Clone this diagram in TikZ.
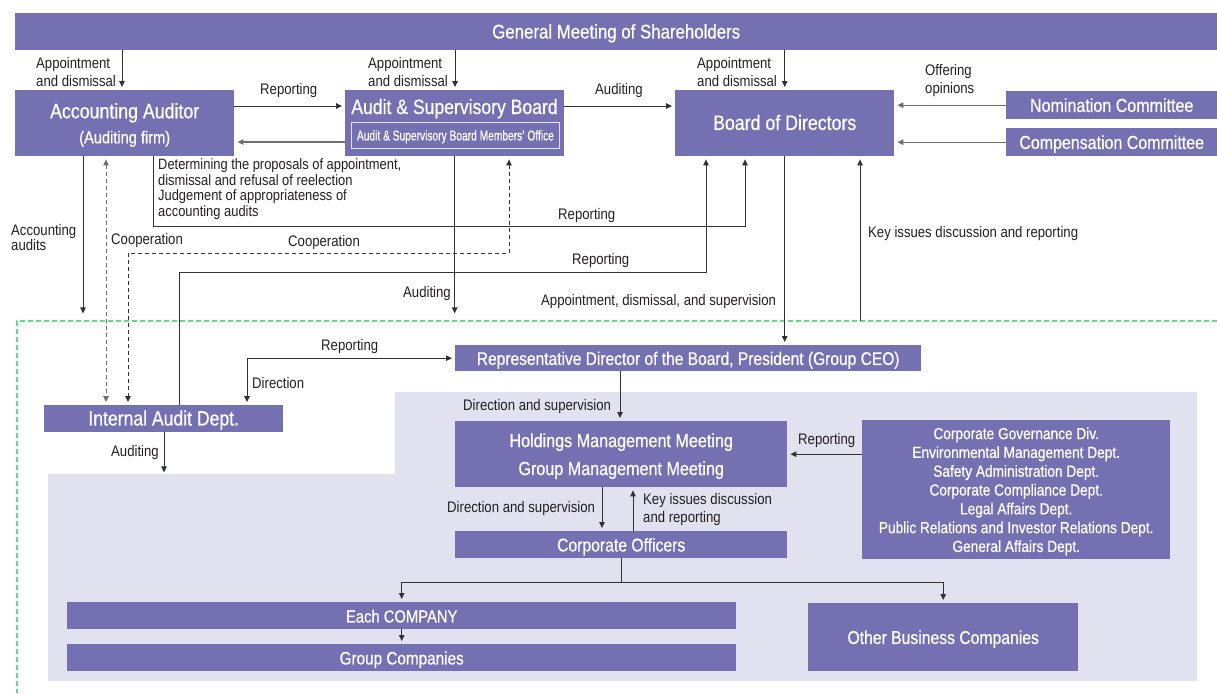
\documentclass[tikz,border=0pt]{standalone}
\usepackage{fontspec}
\setmainfont[FakeStretch=0.86]{Liberation Sans}
\newfontfamily\boxsf[FakeStretch=0.85, FakeBold=0.6]{Liberation Sans}
\newfontfamily\narrowsf[FakeStretch=0.72, FakeBold=0.4]{Liberation Sans}
\usetikzlibrary{arrows.meta}
\definecolor{boxpurple}{RGB}{117,112,178}
\definecolor{bgviolet}{RGB}{226,225,240}
\definecolor{greendash}{RGB}{105,215,138}
\definecolor{ink}{RGB}{35,31,32}
\definecolor{linedark}{RGB}{50,50,50}
\definecolor{linegray}{RGB}{110,110,110}
\tikzset{
  box/.style={fill=boxpurple, text=white, inner sep=0pt, anchor=north west, align=center, text depth=0pt},
  oneline/.style={text height=13.5pt},
  lbl/.style={text=ink, inner sep=0pt, anchor=west, align=left, yshift=-1pt, font=\fontsize{15.3}{18}\selectfont},
  conn/.style={draw=linedark, line width=1pt},
  tip/.style={-{Triangle[length=6pt,width=5.5pt]}, shorten >=3pt},
  arr/.style={conn, tip},
  grayarr/.style={draw=linegray, line width=1.3pt, tip},
  coopgray/.style={draw=linegray, line width=1pt, dash pattern=on 4pt off 3pt,
     {Triangle[length=6pt,width=5.5pt]}-{Triangle[length=6pt,width=5.5pt]}, shorten >=3pt, shorten <=3pt},
  coopdark/.style={draw=linedark, line width=1pt, dash pattern=on 4pt off 3pt,
     {Triangle[length=6pt,width=5.5pt]}-{Triangle[length=6pt,width=5.5pt]}, shorten >=3pt, shorten <=3pt},
}
\begin{document}
\begin{tikzpicture}[x=1pt, y=-1pt]
\useasboundingbox (0,0) rectangle (1217,693);

% executive area background and group boundary
\fill[bgviolet] (48,474) -- (395,474) -- (395,392) -- (1197,392) -- (1197,681) -- (48,681) -- cycle;
\draw[greendash, line width=1.2pt, dash pattern=on 5pt off 3pt] (1217,321) -- (17,321) -- (17,693);

% boxes
\node[box, oneline, minimum width=1202, minimum height=37, font=\boxsf\fontsize{19.8}{22}\selectfont] (gms) at (15,13) {General Meeting of Shareholders};
\node[box, minimum width=219, minimum height=66, font=\boxsf\fontsize{20.9}{25}\selectfont] (aa) at (15,90)
  {Accounting Auditor\\{\fontsize{17.2}{25}\selectfont (Auditing firm)}};
\node[box, minimum width=219, minimum height=66] (asb) at (345,90) {};
\node[text=white, inner sep=0pt, text height=14pt, text depth=0pt, font=\boxsf\fontsize{20.7}{24}\selectfont] (asbtitle) at (454.5,107) {Audit \& Supervisory Board};
\node[draw=white!80!boxpurple, line width=0.9pt, text=white, inner sep=0pt, anchor=north west,
      text height=10pt, text depth=0pt,
      minimum width=208, minimum height=26, font=\narrowsf\fontsize{14.2}{16}\selectfont] (asboffice) at (351,122)
  {Audit \& Supervisory Board Members’ Office};
\node[box, oneline, minimum width=219, minimum height=66, font=\boxsf\fontsize{20.9}{24}\selectfont] (board) at (675,90) {Board of Directors};
\node[box, oneline, minimum width=211, minimum height=28, font=\boxsf\fontsize{18.9}{22}\selectfont] (nom) at (1006,91) {Nomination Committee};
\node[box, oneline, minimum width=211, minimum height=28, font=\boxsf\fontsize{18.8}{22}\selectfont] (comp) at (1006,128) {Compensation Committee};
\node[box, oneline, minimum width=466, minimum height=26, font=\boxsf\fontsize{18.3}{22}\selectfont] (rep) at (455,345)
  {Representative Director of the Board, President (Group CEO)};
\node[box, oneline, minimum width=239, minimum height=27, font=\boxsf\fontsize{20.7}{24}\selectfont] (ia) at (44,405) {Internal Audit Dept.};
\node[box, minimum width=332, minimum height=66, font=\boxsf\fontsize{19}{28}\selectfont] (hmm) at (455,421)
  {Holdings Management Meeting\\Group Management Meeting};
\node[box, oneline, minimum width=332, minimum height=27, font=\boxsf\fontsize{18.5}{22}\selectfont] (co) at (455,531) {Corporate Officers};
\node[box, minimum width=308, minimum height=139, font=\boxsf\fontsize{16.1}{18.8}\selectfont] (depts) at (862,420)
  {Corporate Governance Div.\\Environmental Management Dept.\\Safety Administration Dept.\\Corporate Compliance Dept.\\Legal Affairs Dept.\\Public Relations and Investor Relations Dept.\\General Affairs Dept.};
\node[box, oneline, minimum width=669, minimum height=27, font=\boxsf\fontsize{17.4}{22}\selectfont] (each) at (67,602) {Each COMPANY};
\node[box, oneline, minimum width=669, minimum height=27, font=\boxsf\fontsize{18}{22}\selectfont] (grp) at (67,644) {Group Companies};
\node[box, oneline, minimum width=270, minimum height=68, font=\boxsf\fontsize{18.5}{22}\selectfont] (other) at (808,603) {Other Business Companies};

% appointment by the shareholders
\coordinate (apA) at ([xshift=107pt]aa.north west);
\coordinate (apB) at ([xshift=110pt]asb.north west);
\draw[arr] (gms.south -| apA) -- (apA);
\draw[arr] (gms.south -| apB) -- (apB);
\draw[arr] (gms.south -| board.north) -- (board.north);

% auditor, audit board and board of directors
\coordinate (rpA) at ([yshift=-16pt]aa.north east);
\draw[arr] (rpA) -- (rpA -| asb.west);
\coordinate (rpB) at ([yshift=-52pt]asb.north west);
\draw[grayarr] (rpB) -- (rpB -| aa.east);
\coordinate (auB) at ([yshift=-16pt]asb.north east);
\draw[arr] (auB) -- (auB -| board.west);
\draw[grayarr] (nom.west) -- (nom.west -| board.east);
\draw[grayarr] (comp.west) -- (comp.west -| board.east);

% reporting lines up to the board
\draw[arr] ([xshift=138pt]aa.south west) -- ++(0,70) -| ([xshift=70pt]board.south west);
\draw[arr] ([xshift=135pt]ia.north west) -- ++(0,-133) -| ([xshift=31pt]board.south west);

% audits and cooperation
\draw[arr] ([xshift=68pt]aa.south west) -- ++(0,160);
\coordinate (cpA) at ([xshift=91pt]aa.south west);
\draw[coopgray] (cpA) -- (cpA |- ia.north);
\draw[coopdark] ([xshift=164pt]asb.south west) -- ++(0,97) -| ([xshift=84pt]ia.north west);
\draw[arr] (asb.south) -- ++(0,160);

% board and executive
\draw[arr] (board.south) -- (board.south |- rep.north);
\coordinate (kiStart) at (860,321);
\draw[arr] (kiStart) -- (kiStart |- board.south);
\coordinate (dirC) at ([xshift=203pt]ia.north west |- rep.west);
\draw[arr] (dirC) -- (rep.west);
\draw[arr] (dirC) -- (dirC |- ia.north);
\draw[arr] ([xshift=120pt]ia.south west) -- ++(0,43);
\draw[arr] ([xshift=165pt]rep.south west) -- ([xshift=165pt]rep.south west |- hmm.north);
\draw[arr] (hmm.east -| depts.west) -- (hmm.east);
\draw[arr] ([xshift=147pt]hmm.south west) -- ([xshift=147pt]hmm.south west |- co.north);
\draw[arr] ([xshift=178pt]co.north west) -- ([xshift=178pt]co.north west |- hmm.south);

% group companies
\draw[conn] (co.south) -- ++(0,24) coordinate (brc);
\draw[conn, line width=1.4pt] (brc -| each.north) -- (brc -| other.north);
\draw[arr] (brc -| each.north) -- (each.north);
\draw[arr] (brc -| other.north) -- (other.north);
\draw[arr] (each.south) -- (grp.north);

% connector labels
\node[lbl] (l1) at (36,71) {Appointment\\and dismissal};
\node[lbl] (l2) at (368,71) {Appointment\\and dismissal};
\node[lbl] (l3) at (697,71) {Appointment\\and dismissal};
\node[lbl] (l4) at (260,90) {Reporting};
\node[lbl] (l5) at (595,90) {Auditing};
\node[lbl] (l6) at (925,80) {Offering\\opinions};
\node[lbl, font=\fontsize{15.3}{15}\selectfont] (l7) at (11,237) {Accounting\\audits};
\node[lbl] (l8) at (111,240) {Cooperation};
\node[lbl] (l9) at (288,242) {Cooperation};
\node[lbl, font=\fontsize{15}{15.7}\selectfont] (l10) at (158,188)
  {Determining the proposals of appointment,\\dismissal and refusal of reelection\\Judgement of appropriateness of\\accounting audits};
\node[lbl] (l11) at (558,215) {Reporting};
\node[lbl] (l12) at (572,260) {Reporting};
\node[lbl] (l13) at (403,293) {Auditing};
\node[lbl] (l14) at (541,301) {Appointment, dismissal, and supervision};
\node[lbl] (l15) at (868,233) {Key issues discussion and reporting};
\node[lbl] (l16) at (321,346) {Reporting};
\node[lbl] (l17) at (252,382) {Direction};
\node[lbl] (l18) at (111,452) {Auditing};
\node[lbl] (l19) at (463,406) {Direction and supervision};
\node[lbl] (l20) at (798,440) {Reporting};
\node[lbl] (l21) at (447,508) {Direction and supervision};
\node[lbl] (l22) at (643,509) {Key issues discussion\\and reporting};
\end{tikzpicture}
\end{document}
